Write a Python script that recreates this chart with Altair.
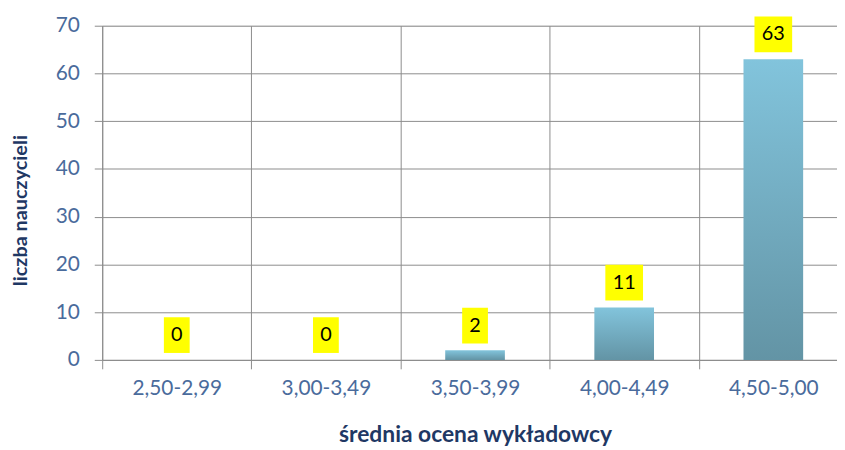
import altair as alt
import pandas as pd

categories = ["2,50-2,99", "3,00-3,49", "3,50-3,99", "4,00-4,49", "4,50-5,00"]
counts = [0, 0, 2, 11, 63]
y_ticks = [0, 10, 20, 30, 40, 50, 60, 70]

N = len(categories)
df = pd.DataFrame({"kat": categories, "v": counts, "idx": list(range(N))})

FONT = "Lato"
LABEL_COLOR = "#4A6B9C"
TITLE_COLOR = "#1F3864"
GRID = "#8C8C8C"

# visible part of the category axis (last category runs past the right edge)
xscale = alt.Scale(domain=[0, 4.927], nice=False, zero=False, padding=0)
yscale = alt.Scale(domain=[0, 70], nice=False, padding=0)

names_js = "[" + ",".join("'" + c + "'" for c in categories) + "]"
x_vals = [i * 0.5 for i in range(2 * N)]
is_half = "datum.value % 1 > 0"

x_axis = alt.Axis(
    title="średnia ocena wykładowcy",
    values=x_vals,
    labelExpr=f"{is_half} ? {names_js}[floor(datum.value)] : ''",
    labelOverlap=False,
    labelFlush=False,
    grid=True,
    gridColor=GRID,
    gridOpacity={"condition": {"test": is_half, "value": 0}, "value": 1},
    tickOpacity={"condition": {"test": is_half, "value": 0}, "value": 1},
    domainColor=GRID,
    tickColor=GRID,
    tickSize=9,
    labelAngle=0,
    labelFont=FONT,
    labelFontSize=21,
    labelColor=LABEL_COLOR,
    labelPadding=9,
    titleFont=FONT,
    titleFontSize=23,
    titleFontWeight="bold",
    titleColor=TITLE_COLOR,
    titleX=376,
    titleY=75,
    titleBaseline="middle",
    titleAlign="center",
)

y_axis = alt.Axis(
    title="liczba nauczycieli",
    values=y_ticks,
    grid=True,
    gridColor=GRID,
    domainColor=GRID,
    tickColor=GRID,
    tickSize=8,
    labelFont=FONT,
    labelFontSize=21,
    labelColor=LABEL_COLOR,
    labelPadding=15,
    titleFont=FONT,
    titleFontSize=20,
    titleFontWeight="bold",
    titleColor=TITLE_COLOR,
    titleAngle=-90,
    titleX=-82,
    titleY=186,
    titleBaseline="middle",
    titleAlign="center",
)

base = alt.Chart(df).transform_calculate(
    x0="datum.idx + 0.3",
    x1="datum.idx + 0.7",
    xc="datum.idx + 0.5",
    w="14 + 12 * length(toString(datum.v))",
)

bars = base.mark_bar(
    orient="vertical",
    color=alt.Gradient(
        gradient="linear",
        stops=[
            alt.GradientStop(offset=0, color="#82C4DC"),
            alt.GradientStop(offset=1, color="#6394A5"),
        ],
        x1=0, x2=0, y1=0, y2=1,
    ),
).encode(
    x=alt.X("x0:Q", scale=xscale, axis=x_axis),
    x2=alt.X2("x1:Q"),
    y=alt.Y("v:Q", scale=yscale, axis=y_axis),
    y2=alt.datum(0),
)

boxes = base.mark_bar(color="#FFFF00", yOffset=-43, y2Offset=-7, orient="vertical").encode(
    x=alt.X("xc:Q", scale=xscale),
    y=alt.Y("v:Q", scale=yscale),
    y2=alt.Y2("v:Q"),
    size=alt.Size("w:Q", scale=None, legend=None),
)

labels = base.mark_text(
    dy=-25, baseline="middle", align="center", font=FONT, fontSize=20, color="#000000"
).encode(
    x=alt.X("xc:Q", scale=xscale),
    y=alt.Y("v:Q", scale=yscale),
    text=alt.Text("v:Q"),
)

chart = (
    alt.layer(bars, boxes, labels)
    .properties(
        width=741,
        height=337,
        autosize=alt.AutoSizeParams(type="none"),
        padding={"left": 95, "top": 16, "right": 0, "bottom": 88},
    )
    .configure_view(stroke=None)
    .configure(background="white")
)

chart.save("out.html", embed_options={"renderer": "svg", "actions": False})
